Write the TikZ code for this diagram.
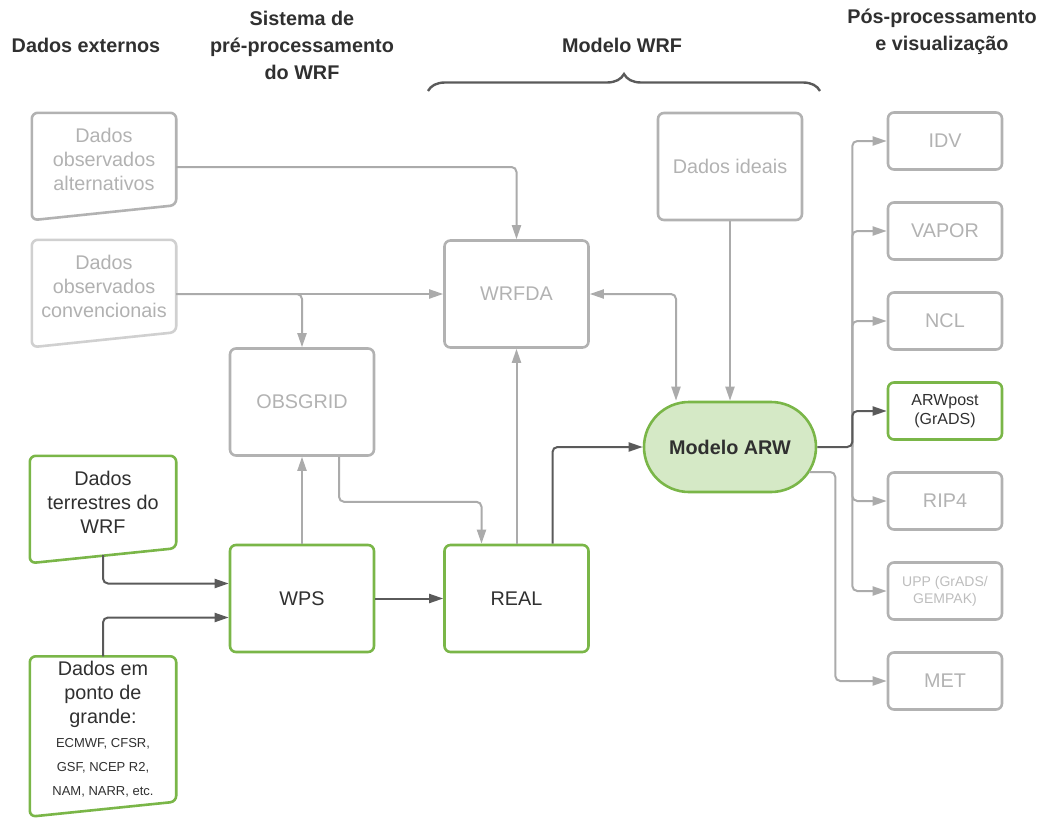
\documentclass[tikz,border=0pt]{standalone}
\usepackage{fontspec}
\setmainfont{Liberation Sans}
\usetikzlibrary{arrows.meta, positioning, calc, decorations.pathreplacing}

\definecolor{wrfgreen}{HTML}{7AB648}
\definecolor{wrffill}{HTML}{D5E9C6}
\definecolor{boxgray}{HTML}{B2B2B2}
\definecolor{palegray}{HTML}{D0D0D0}
\definecolor{linegray}{HTML}{ABABAB}
\definecolor{linedark}{HTML}{5A5A5A}
\definecolor{textdark}{HTML}{303030}

\newcommand\nodefont{\fontsize{19.8}{24}\selectfont}
\newcommand\smalldata{\fontsize{13}{22}\selectfont}

\tikzset{
  box/.style={draw=boxgray, line width=2.6pt, rounded corners=6pt, text=boxgray,
    font=\nodefont, align=center, minimum width=144pt, minimum height=107pt, inner sep=2pt},
  greenbox/.style={box, draw=wrfgreen, text=textdark},
  databox/.style={text=boxgray, font=\nodefont, align=center, minimum width=144pt,
    minimum height=92pt, inner sep=0pt},
  outbox/.style={box, minimum width=114pt, minimum height=57pt},
  head/.style={font=\bfseries\fontsize{19.8}{27}\selectfont, text=textdark, align=center},
  gline/.style={draw=linegray, line width=2pt, rounded corners=5pt, ->},
  dline/.style={gline, draw=linedark},
}

\begin{document}
\begin{tikzpicture}[x=1pt, y=-1pt, >={Triangle[length=14pt,width=9pt]}]
  \useasboundingbox (0,0) rectangle (1045,819);

  % column headings
  \node[head] (hext) at (86,45) {Dados externos};
  \node[head] (hpre) at (302,45) {Sistema de\\pré-processamento\\do WRF};
  \node[head] (hmod) at (622,45) {Modelo WRF};
  \node[head] (hpos) at (942,31.5) {Pós-processamento\\e visualização};
  \draw[linedark, line width=2.4pt, decorate, decoration={brace, amplitude=17pt}]
    (428,91) -- (820,91);

  % external data
  \node[databox] (alt) at (104,159) {Dados\\observados\\alternativos};
  \node[databox, text=palegray!85!black] (conv) at (104,286) {Dados\\observados\\convencionais};
  \node[databox, text=textdark, minimum width=146pt] (terr) at (103,502) {Dados\\terrestres do\\WRF};
  \node[databox, text=textdark, minimum width=146pt, minimum height=145pt] (grd) at (103,729)
    {Dados em\\ponto de\\grande:\\\smalldata ECMWF, CFSR,\\\smalldata GSF, NCEP R2,\\\smalldata NAM, NARR, etc.};
  \foreach \n/\c in {alt/boxgray, conv/palegray, terr/wrfgreen, grd/wrfgreen}
    \draw[draw=\c, line width=2.6pt, rounded corners=6pt]
      (\n.north west) -- (\n.north east) -- (\n.south east) -- ([yshift=-15pt]\n.south west) -- cycle;

  % WPS and WRF
  \node[box] (obsgrid) at (302,402) {OBSGRID};
  \node[greenbox] (wps) at (302,598.5) {WPS};
  \node[box] (wrfda) at (516.5,294) {WRFDA};
  \node[greenbox] (real) at (516.5,598.5) {REAL};
  \node[box] (ideais) at (730,166.5) {Dados ideais};
  \node[greenbox, fill=wrffill, rounded corners=45pt, minimum width=172pt, minimum height=90pt,
    font=\bfseries\nodefont] (arw) at (730,447) {Modelo ARW};

  % post-processing
  \node[outbox] (idv) at (945,141) {IDV};
  \node[outbox] (vapor) at (945,231) {VAPOR};
  \node[outbox] (ncl) at (945,321) {NCL};
  \node[outbox, draw=wrfgreen, text=textdark, font=\fontsize{16}{19}\selectfont] (arwpost) at (945,411) {ARWpost\\(GrADS)};
  \node[outbox] (rip) at (945,501) {RIP4};
  \node[outbox, text=boxgray!85, font=\fontsize{14}{17}\selectfont] (upp) at (945,591) {UPP (GrADS/\\GEMPAK)};
  \node[outbox] (met) at (945,681) {MET};

  % connectors
  \draw[gline] ([yshift=-8pt]alt.east) -| (wrfda.north);
  \draw[gline] (conv.east |- wrfda.west) -- (wrfda.west);
  \draw[gline] (conv.east |- wrfda.west) -| (obsgrid.north);
  \draw[gline] (wps.north) -- (obsgrid.south);
  \draw[gline] ([xshift=37pt]obsgrid.south) -- ++(0,45) -| ([xshift=-35pt]real.north);
  \draw[gline] (real.north) -- (wrfda.south);
  \draw[gline, <->] (wrfda.east) -| ([xshift=-54pt]arw.north);
  \draw[gline] (ideais.south) -- (arw.north);
  \draw[dline] ([xshift=36pt]real.north) |- (arw.west);
  \draw[dline] (wps.east) -- (real.west);
  \draw[dline] ([yshift=-7pt]terr.south) |- ([yshift=15pt]wps.west);
  \draw[dline] (grd.north) |- ([yshift=-19pt]wps.west);

  \coordinate[right=35pt of arw.east] (trunk);
  \foreach \b in {idv, vapor, ncl, rip, upp}
    \draw[gline] (trunk) |- (\b.west);
  \draw[gline] ([xshift=-8pt, yshift=-25pt]arw.east) -- ++(26,0) |- (met.west);
  \draw[dline] (arw.east) -- (trunk) |- (arwpost.west);
\end{tikzpicture}
\end{document}
